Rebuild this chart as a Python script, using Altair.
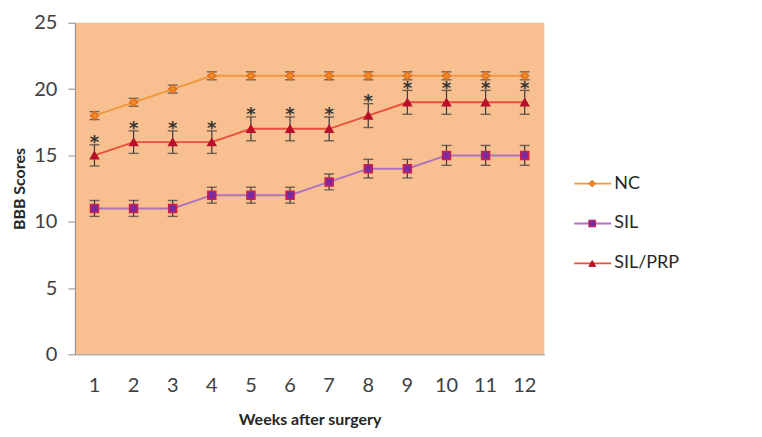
import altair as alt
import pandas as pd

weeks = list(range(1, 13))
series = ["NC", "SIL", "SIL/PRP"]
nc = [18, 19, 20, 21, 21, 21, 21, 21, 21, 21, 21, 21]
nc_err = [0.3] * 12
sil = [11, 11, 11, 12, 12, 12, 13, 14, 14, 15, 15, 15]
sil_err = [0.6, 0.6, 0.6, 0.6, 0.6, 0.6, 0.6, 0.7, 0.7, 0.75, 0.75, 0.75]
prp = [15, 16, 16, 16, 17, 17, 17, 18, 19, 19, 19, 19]
prp_err = [0.8, 0.85, 0.85, 0.85, 0.9, 0.9, 0.9, 0.9, 0.9, 0.9, 0.9, 0.9]

line_colors = ["#F0963C", "#AE72C0", "#E8503C"]
fill_colors = ["#F08A24", "#7A2A9E", "#B8102A"]
stroke_colors = ["#E07020", "#D0204A", "#B8102A"]
shapes = ["diamond", "square", "triangle-up"]
bg = "#F8C090"
font = "Lato"

rows = []
for name, vals, errs in [("NC", nc, nc_err), ("SIL", sil, sil_err), ("SIL/PRP", prp, prp_err)]:
    for w, v, e in zip(weeks, vals, errs):
        rows.append({"week": w, "series": name, "value": v, "err": e,
                     "star": "*" if name == "SIL/PRP" else ""})
df = pd.DataFrame(rows)

xenc = alt.X("week:O", title="Weeks after surgery",
             axis=alt.Axis(labelAngle=0, ticks=False, labelPadding=21,
                           titlePadding=16, domainColor="#8C8C8C"))
yscale = alt.Scale(domain=[0, 25])
yaxis = alt.Axis(values=[0, 5, 10, 15, 20, 25], tickSize=7, labelPadding=11,
                 titlePadding=6, domainColor="#8C8C8C", tickColor="#8C8C8C",
                 grid=False)

base = alt.Chart(df).encode(x=xenc)

lines = base.mark_line().encode(
    y=alt.Y("value:Q", scale=yscale, axis=yaxis, title="BBB Scores"),
    color=alt.Color("series:N", scale=alt.Scale(domain=series, range=line_colors), legend=None),
    strokeWidth=alt.StrokeWidth("series:N", scale=alt.Scale(domain=series, range=[2, 2, 2.6]), legend=None),
)

err_base = base.transform_calculate(lo="datum.value - datum.err", hi="datum.value + datum.err")
err_rule = err_base.mark_rule(color="#3A3A3A", strokeWidth=1.2).encode(
    y=alt.Y("lo:Q", scale=yscale), y2="hi:Q")
cap_lo = err_base.mark_tick(color="#3A3A3A", orient="horizontal", size=10, thickness=1.4).encode(
    y=alt.Y("lo:Q", scale=yscale))
cap_hi = err_base.mark_tick(color="#3A3A3A", orient="horizontal", size=10, thickness=1.4).encode(
    y=alt.Y("hi:Q", scale=yscale))

points = base.mark_point(filled=True, size=64, strokeWidth=1.5, opacity=1).encode(
    y=alt.Y("value:Q", scale=yscale),
    shape=alt.Shape("series:N", scale=alt.Scale(domain=series, range=shapes), legend=None),
    fill=alt.Fill("series:N", scale=alt.Scale(domain=series, range=fill_colors), legend=None),
    stroke=alt.Stroke("series:N", scale=alt.Scale(domain=series, range=stroke_colors), legend=None),
)

stars = base.transform_filter(alt.datum.series == "SIL/PRP").transform_calculate(
    sy="datum.value + datum.err + 0.5").mark_text(
    fontSize=18, fontWeight="bold", color="#333333", baseline="middle", dy=5, font="DejaVu Sans").encode(
    y=alt.Y("sy:Q", scale=yscale), text="star:N")

main = alt.layer(lines, err_rule, cap_lo, cap_hi, points, stars)

# legend drawn to the right of the plot area
leg_df = pd.DataFrame({"series": series})
lbase = alt.Chart(leg_df).encode(
    y=alt.Y("series:N", sort=series, axis=None,
            scale=alt.Scale(type="point", domain=series, range=[161, 241], padding=0)))
lrule = lbase.mark_rule(strokeWidth=1.8).encode(
    x=alt.value(500), x2=alt.value(537),
    color=alt.Color("series:N", scale=alt.Scale(domain=series, range=line_colors), legend=None))
lpoint = lbase.mark_point(filled=True, size=45, strokeWidth=1, opacity=1).encode(
    x=alt.value(518),
    shape=alt.Shape("series:N", scale=alt.Scale(domain=series, range=shapes), legend=None),
    fill=alt.Fill("series:N", scale=alt.Scale(domain=series, range=fill_colors), legend=None),
    stroke=alt.Stroke("series:N", scale=alt.Scale(domain=series, range=stroke_colors), legend=None))
ltext = lbase.mark_text(align="left", baseline="middle", fontSize=18, font=font, color="#262626").encode(
    x=alt.value(540), text="series:N")
legend = alt.layer(lrule, lpoint, ltext)

chart = alt.layer(main, legend).resolve_scale(y="independent").properties(
    width=470, height=332,
    autosize=alt.AutoSizeParams(type="none"),
    padding={"left": 67, "top": 14.5, "right": 210, "bottom": 80},
    background="white",
    view=alt.ViewBackground(fill=bg, stroke=None),
).configure_axis(
    labelFont=font, labelFontSize=20, labelColor="#404040",
    titleFont=font, titleFontSize=16, titleFontWeight="bold", titleColor="#262626",
)

chart.save("out.html", embed_options={"renderer": "svg", "actions": False})
